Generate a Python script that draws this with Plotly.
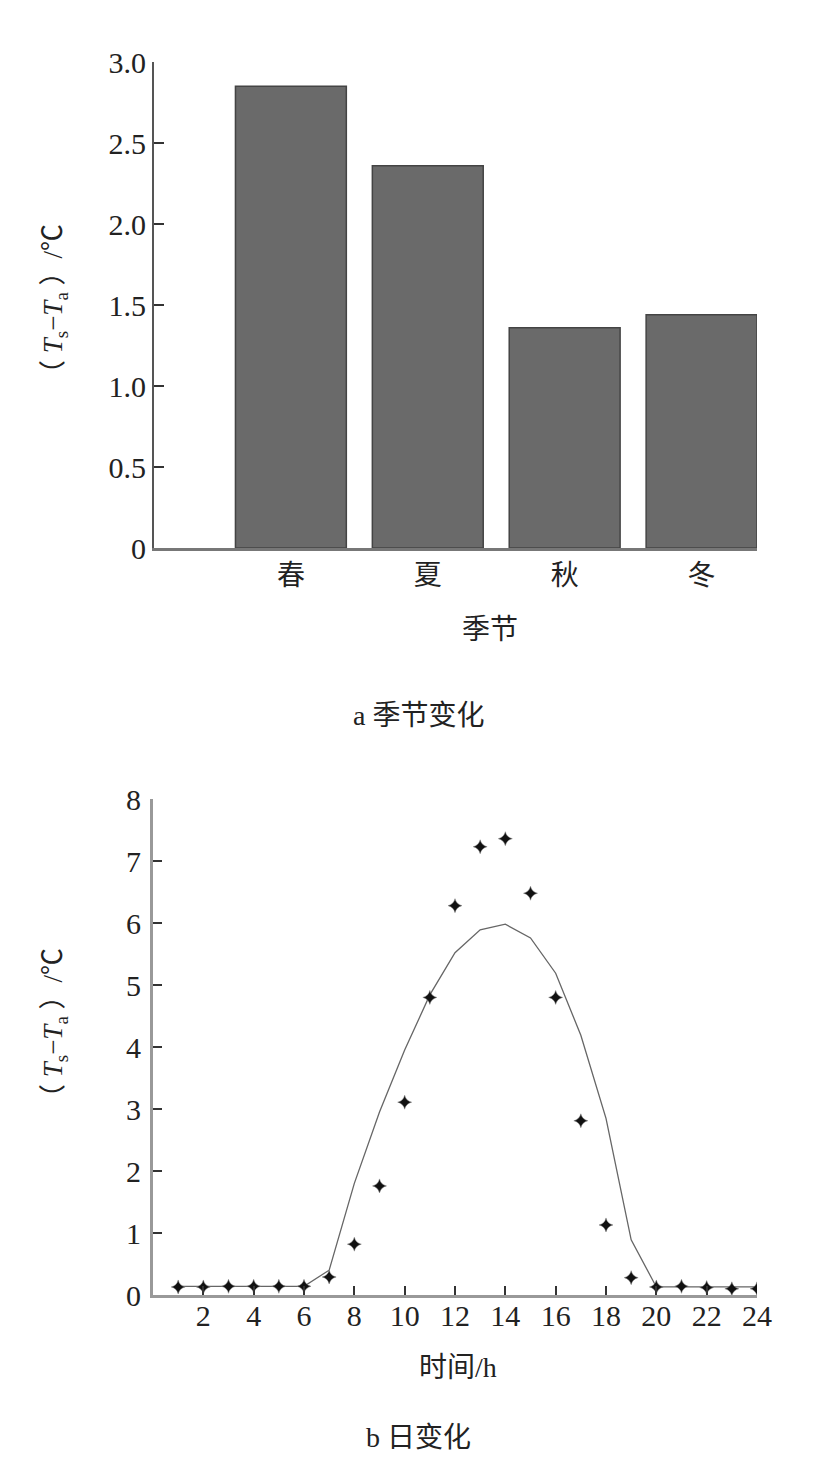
import plotly.graph_objects as go

# ---- data ----
seasons = ["春", "夏", "秋", "冬"]
season_vals = [2.85, 2.36, 1.36, 1.44]

hours = list(range(1, 25))
obs_vals = [0.13, 0.13, 0.14, 0.14, 0.14, 0.14, 0.29, 0.82, 1.76, 3.11, 4.80, 6.28,
            7.23, 7.36, 6.48, 4.80, 2.81, 1.13, 0.28, 0.13, 0.14, 0.12, 0.10, 0.10]
fit_vals = [0.14, 0.14, 0.14, 0.14, 0.14, 0.14, 0.40, 1.80, 2.95, 3.95, 4.84, 5.52,
            5.89, 5.98, 5.76, 5.19, 4.19, 2.85, 0.89, 0.13, 0.13, 0.13, 0.13, 0.13]

y1_ticks = [0, 0.5, 1.0, 1.5, 2.0, 2.5, 3.0]
y1_ticktext = ["0", "0.5", "1.0", "1.5", "2.0", "2.5", "3.0"]
x2_ticks = list(range(2, 25, 2))
y2_ticks = list(range(0, 9))

OFF = 8  # page body margin
W, H = 835 - OFF, 1472 - OFF
serif = "Liberation Serif, Noto Sans CJK SC"
cjk = "Noto Sans CJK SC"

fig = go.Figure()
fig.add_trace(go.Bar(
    x=[1, 2, 3, 4], y=season_vals, width=0.81,
    marker=dict(color="#6a6a6a", line=dict(color="#444444", width=1.5)),
    xaxis="x", yaxis="y", showlegend=False,
))
fig.add_trace(go.Scatter(
    x=hours, y=fit_vals, mode="lines",
    line=dict(color="#666666", width=1.3),
    xaxis="x2", yaxis="y2", showlegend=False,
))
fig.add_trace(go.Scatter(
    x=hours, y=obs_vals, mode="markers",
    marker=dict(symbol="star-diamond", size=10, color="#111111",
                line=dict(color="#888888", width=0.5)),
    xaxis="x2", yaxis="y2", showlegend=False,
))

def px(v):
    return (v - OFF) / W

def py(v):
    return 1 - (v - OFF) / H

tickfont = dict(family=serif, size=30, color="#222222")

fig.update_layout(
    template="none",
    width=W, height=H,
    margin=dict(l=0, r=0, t=0, b=0, pad=0, autoexpand=False),
    paper_bgcolor="white", plot_bgcolor="white",
    xaxis=dict(domain=[px(154), px(757)], range=[0, 4.405],
               tickvals=[1, 2, 3, 4], ticktext=seasons,
               tickfont=dict(family=cjk, size=28, color="#222222"),
               showgrid=False, zeroline=False, showline=True,
               linecolor="#777777", linewidth=3, ticks="",
               anchor="y", automargin=False),
    yaxis=dict(domain=[py(548), py(62)], range=[0, 3.0],
               tickvals=y1_ticks, ticktext=y1_ticktext, tickfont=tickfont,
               showgrid=False, zeroline=False, showline=True,
               linecolor="#555555", linewidth=2,
               ticks="inside", ticklen=10, tickwidth=2, tickcolor="#333333",
               anchor="x", automargin=False),
    xaxis2=dict(domain=[px(153), px(757)], range=[0, 24],
                tickvals=x2_ticks, tickfont=tickfont,
                showgrid=False, zeroline=False, showline=True,
                linecolor="#999999", linewidth=3,
                ticks="inside", ticklen=9, tickwidth=2, tickcolor="#333333",
                ticklabelstandoff=-8,
                anchor="y2", automargin=False),
    yaxis2=dict(domain=[py(1295), py(799)], range=[0, 8],
                tickvals=y2_ticks, tickfont=tickfont,
                showgrid=False, zeroline=False, showline=True,
                linecolor="#999999", linewidth=3,
                ticks="inside", ticklen=9, tickwidth=2, tickcolor="#333333",
                ticklabelstandoff=3,
                anchor="x2", automargin=False),
)

ytitle = "（ <i>T</i><sub>s</sub>−<i>T</i><sub>a</sub> ）/℃"
ann = [
    dict(text=ytitle, x=px(55), y=py(306), textangle=-90,
         font=dict(family=serif, size=27, color="#222222")),
    dict(text="季节", x=px(490), y=py(627),
         font=dict(family=cjk, size=28, color="#222222")),
    dict(text="a 季节变化", x=px(418), y=py(715),
         font=dict(family=serif, size=28, color="#222222")),
    dict(text=ytitle, x=px(55), y=py(1030), textangle=-90,
         font=dict(family=serif, size=27, color="#222222")),
    dict(text="时间/h", x=px(458), y=py(1367),
         font=dict(family=serif, size=28, color="#222222")),
    dict(text="b 日变化", x=px(418), y=py(1437),
         font=dict(family=serif, size=28, color="#222222")),
]
for a in ann:
    a.update(xref="paper", yref="paper", showarrow=False,
             xanchor="center", yanchor="middle")
fig.update_layout(annotations=ann)

fig.write_html("out.html")
